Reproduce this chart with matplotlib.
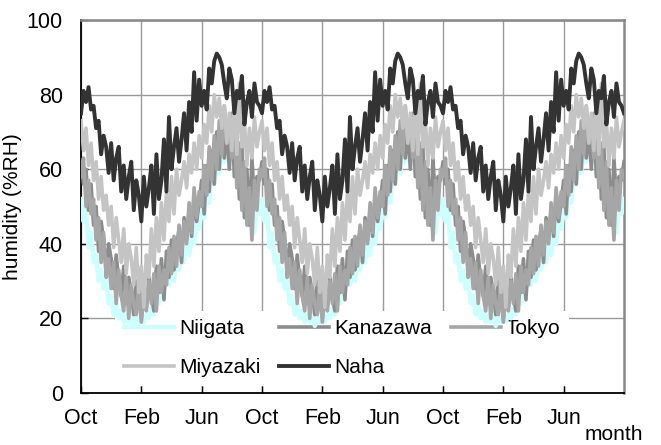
import numpy as np
import matplotlib
matplotlib.use("Agg")
import matplotlib.pyplot as plt

plt.rcParams['font.family'] = ['Liberation Sans', 'DejaVu Sans']
plt.rcParams['font.size'] = 15

# one year, Oct -> Sep, ~5 day steps (6 per month); the chart repeats it 3 times
niigata = [52, 46, 49, 39, 43, 35, 37, 30, 33, 28, 30, 24, 26, 21, 24, 20, 22, 19,
           21, 19, 22, 18, 20, 19, 20, 19, 21, 20, 23, 21, 26, 24, 29, 27, 31, 29,
           33, 30, 35, 33, 37, 35, 40, 37, 43, 40, 46, 44, 49, 47, 54, 51, 59, 56,
           62, 59, 66, 62, 68, 64, 66, 59, 63, 55, 58, 50, 54, 45, 50, 43, 50, 48]
kanazawa = [62, 56, 60, 49, 56, 45, 50, 38, 46, 41, 33, 40, 36, 28, 37, 30, 26, 34,
            24, 31, 27, 21, 30, 25, 20, 29, 23, 31, 26, 22, 34, 27, 36, 25, 38, 31,
            41, 33, 39, 44, 35, 47, 41, 49, 42, 53, 46, 51, 57, 48, 61, 54, 65, 56,
            70, 60, 74, 63, 71, 60, 75, 58, 68, 52, 66, 47, 60, 45, 63, 51, 58, 57]
tokyo = [58, 63, 50, 57, 48, 52, 41, 47, 35, 43, 31, 36, 28, 35, 24, 33, 26, 22,
         31, 20, 29, 24, 21, 30, 19, 26, 22, 30, 24, 32, 22, 34, 27, 33, 29, 39,
         32, 42, 34, 45, 37, 46, 40, 51, 43, 55, 47, 54, 50, 61, 53, 66, 57, 69,
         60, 73, 64, 77, 67, 72, 63, 71, 55, 67, 49, 62, 45, 55, 41, 57, 49, 60]
miyazaki = [73, 65, 71, 61, 67, 57, 62, 52, 58, 49, 53, 45, 50, 39, 47, 41, 35, 44,
            32, 40, 36, 29, 39, 27, 34, 23, 37, 31, 44, 34, 47, 38, 51, 41, 54, 46,
            58, 48, 60, 53, 57, 62, 55, 64, 59, 67, 60, 69, 63, 72, 67, 77, 70, 80,
            74, 79, 71, 77, 67, 75, 65, 80, 64, 83, 66, 73, 61, 71, 63, 74, 66, 70]
naha = [75, 81, 78, 82, 76, 77, 71, 73, 64, 69, 66, 59, 67, 57, 63, 66, 54, 61,
        52, 58, 62, 49, 57, 53, 46, 58, 50, 55, 61, 48, 64, 52, 57, 68, 54, 74,
        60, 66, 71, 62, 68, 75, 65, 78, 70, 86, 73, 84, 77, 81, 76, 87, 83, 89,
        91, 90, 88, 83, 79, 87, 84, 75, 81, 79, 85, 72, 78, 81, 74, 83, 78, 77]

n_years = 3
tick_labels = ['Oct', 'Feb', 'Jun'] * n_years

series = [
    ('Niigata', niigata, '#ccffff', 3.2),
    ('Kanazawa', kanazawa, '#8c8c8c', 2.6),
    ('Tokyo', tokyo, '#a6a6a6', 2.6),
    ('Miyazaki', miyazaki, '#c4c4c4', 2.6),
    ('Naha', naha, '#333333', 2.8),
]

fig = plt.figure(figsize=(6.61, 4.45), dpi=100)
ax = fig.add_axes([81 / 661, 1 - 393 / 445, 543 / 661, 373 / 445])

handles = {}
for name, vals, col, lw in series:
    y = np.array(list(vals) * n_years + [vals[0]])
    x = np.arange(len(y)) / 6.0
    h, = ax.plot(x, y, color=col, lw=lw, label=name, zorder=3)
    handles[name] = h

ax.set_xlim(0, 12 * n_years)
ax.set_ylim(0, 100)
ax.set_xticks(np.arange(0, 12 * n_years, 4))
ax.set_xticklabels(tick_labels)
ax.set_yticks(range(0, 101, 20))

ax.set_axisbelow(True)
ax.grid(True, color='#9a9a9a', lw=1.0)
ax.tick_params(direction='in', length=5, width=1, colors='black', labelsize=15.5)
ax.tick_params(axis='x', pad=11)
ax.tick_params(axis='y', pad=13)

ax.spines['left'].set_color('black')
ax.spines['bottom'].set_color('black')
ax.spines['left'].set_linewidth(1.3)
ax.spines['bottom'].set_linewidth(1.3)
for s in ('top', 'right'):
    ax.spines[s].set_color('#888888')
    ax.spines[s].set_linewidth(1.8)

ax.set_ylabel('humidity (%RH)', fontsize=15)
ax.yaxis.set_label_coords(-0.108, 0.5)
fig.text(643 / 661, 1 / 445, 'month', ha='right', va='bottom', fontsize=15)

order = ['Niigata', 'Miyazaki', 'Kanazawa', 'Naha', 'Tokyo']
leg = ax.legend([handles[k] for k in order], order, ncol=3,
                loc='lower left', bbox_to_anchor=(0.063, 0.02),
                borderaxespad=0, borderpad=0.4, handlelength=2.4,
                handletextpad=0.25, columnspacing=0.9, labelspacing=0.95,
                frameon=True, fancybox=False, facecolor='white',
                edgecolor='none', framealpha=1, fontsize=15)
leg.set_zorder(2.5)

fig.savefig('out.png', dpi=100)
